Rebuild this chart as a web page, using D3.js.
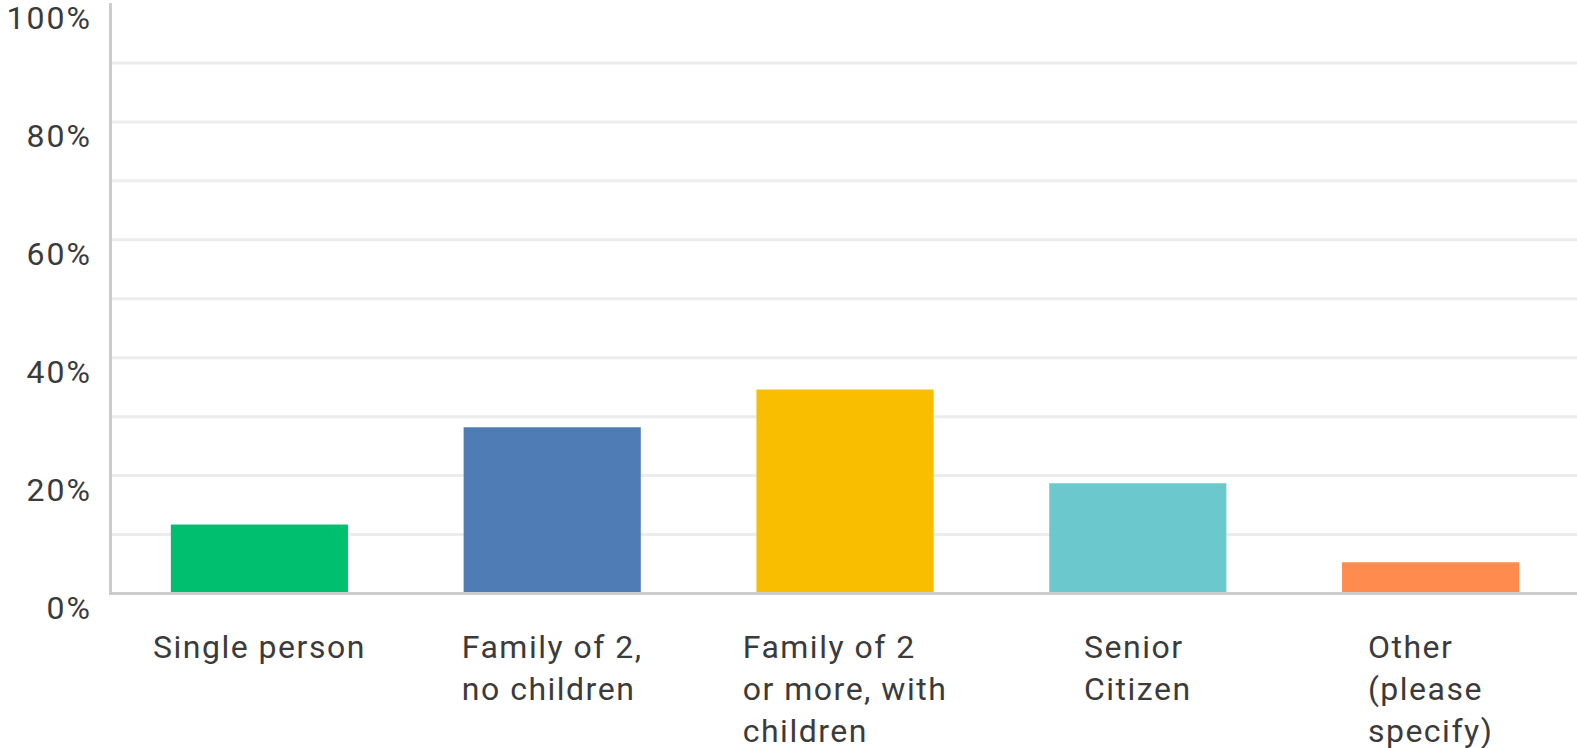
<!DOCTYPE html>
<html>
<head>
<meta charset="utf-8">
<script src="https://cdn.jsdelivr.net/npm/d3@7"></script>
<style>
  body { margin: 0; background: #fff; }
  text { font-family: Roboto, "Noto Sans", sans-serif; fill: #3b3b3b; }
</style>
</head>
<body>
<div id="chart"></div>
<script>
// categories, one line per entry as shown under the bars
var categories = ['Single person', 'Family of 2, no children', 'Family of 2 or more, with children', 'Senior Citizen', 'Other (please specify)'];
var categoryLines = [
  ['Single person'],
  ['Family of 2,', 'no children'],
  ['Family of 2', 'or more, with', 'children'],
  ['Senior', 'Citizen'],
  ['Other', '(please', 'specify)']
];
var percents = [11.7, 28.2, 34.6, 18.7, 5.3];
var barColors = ['#00bf6f', '#507cb6', '#f9be00', '#6bc8cd', '#ff8b4f'];
var tickLabels = [0, 20, 40, 60, 80, 100];
var gridValues = [10, 20, 30, 40, 50, 60, 70, 80, 90];

var W = 1577, H = 748;

var svg = d3.select('#chart').append('svg')
    .attr('width', W).attr('height', H);

var x = d3.scaleBand()
    .domain(categories)
    .range([113, 1577])
    .paddingInner(0.395)
    .paddingOuter(0.1975);

var y = d3.scaleLinear()
    .domain([0, 100])
    .range([593.5, 4]);

// grid lines
svg.selectAll('line.grid')
    .data(gridValues)
    .enter()
    .append('line')
    .attr('class', 'grid')
    .attr('x1', 111).attr('x2', W)
    .attr('y1', function(d) { return y(d); })
    .attr('y2', function(d) { return y(d); })
    .style('stroke', '#ececec')
    .style('stroke-width', 3);

// bars
svg.selectAll('rect.bar')
    .data(percents)
    .enter()
    .append('rect')
    .attr('class', 'bar')
    .attr('x', function(d, i) { return x(categories[i]); })
    .attr('y', function(d) { return y(d); })
    .attr('width', x.bandwidth())
    .attr('height', function(d) { return y(0) - y(d); })
    .style('fill', function(d, i) { return barColors[i]; });

// axis lines
svg.append('line')
    .attr('x1', 110.5).attr('x2', 110.5)
    .attr('y1', 3).attr('y2', 595)
    .style('stroke', '#cccccc').style('stroke-width', 3);
svg.append('line')
    .attr('x1', 109).attr('x2', W)
    .attr('y1', y(0)).attr('y2', y(0))
    .style('stroke', '#cccccc').style('stroke-width', 3);

// y tick labels
svg.selectAll('text.ytick')
    .data(tickLabels)
    .enter()
    .append('text')
    .attr('class', 'ytick')
    .attr('x', 92)
    .attr('y', function(d) { return y(d) + 25; })
    .attr('text-anchor', 'end')
    .style('font-size', '32px')
    .style('letter-spacing', '2px')
    .text(function(d) { return d + '%'; });

// category labels: block centred under bar, lines left aligned
var labels = svg.selectAll('g.xlab')
    .data(categoryLines)
    .enter()
    .append('g')
    .attr('class', 'xlab');

labels.each(function(lines, i) {
  var g = d3.select(this);
  var t = g.append('text')
    .style('font-size', '32px')
    .style('letter-spacing', '1.5px');
  lines.forEach(function(l, j) {
    t.append('tspan')
      .attr('x', 0)
      .attr('y', 658 + j * 42)
      .text(l);
  });
  var maxW = 0;
  t.selectAll('tspan').each(function() {
    maxW = Math.max(maxW, this.getComputedTextLength());
  });
  var cx = x(categories[i]) + x.bandwidth() / 2;
  g.attr('transform', 'translate(' + (cx - maxW / 2) + ',0)');
});
</script>
</body>
</html>
